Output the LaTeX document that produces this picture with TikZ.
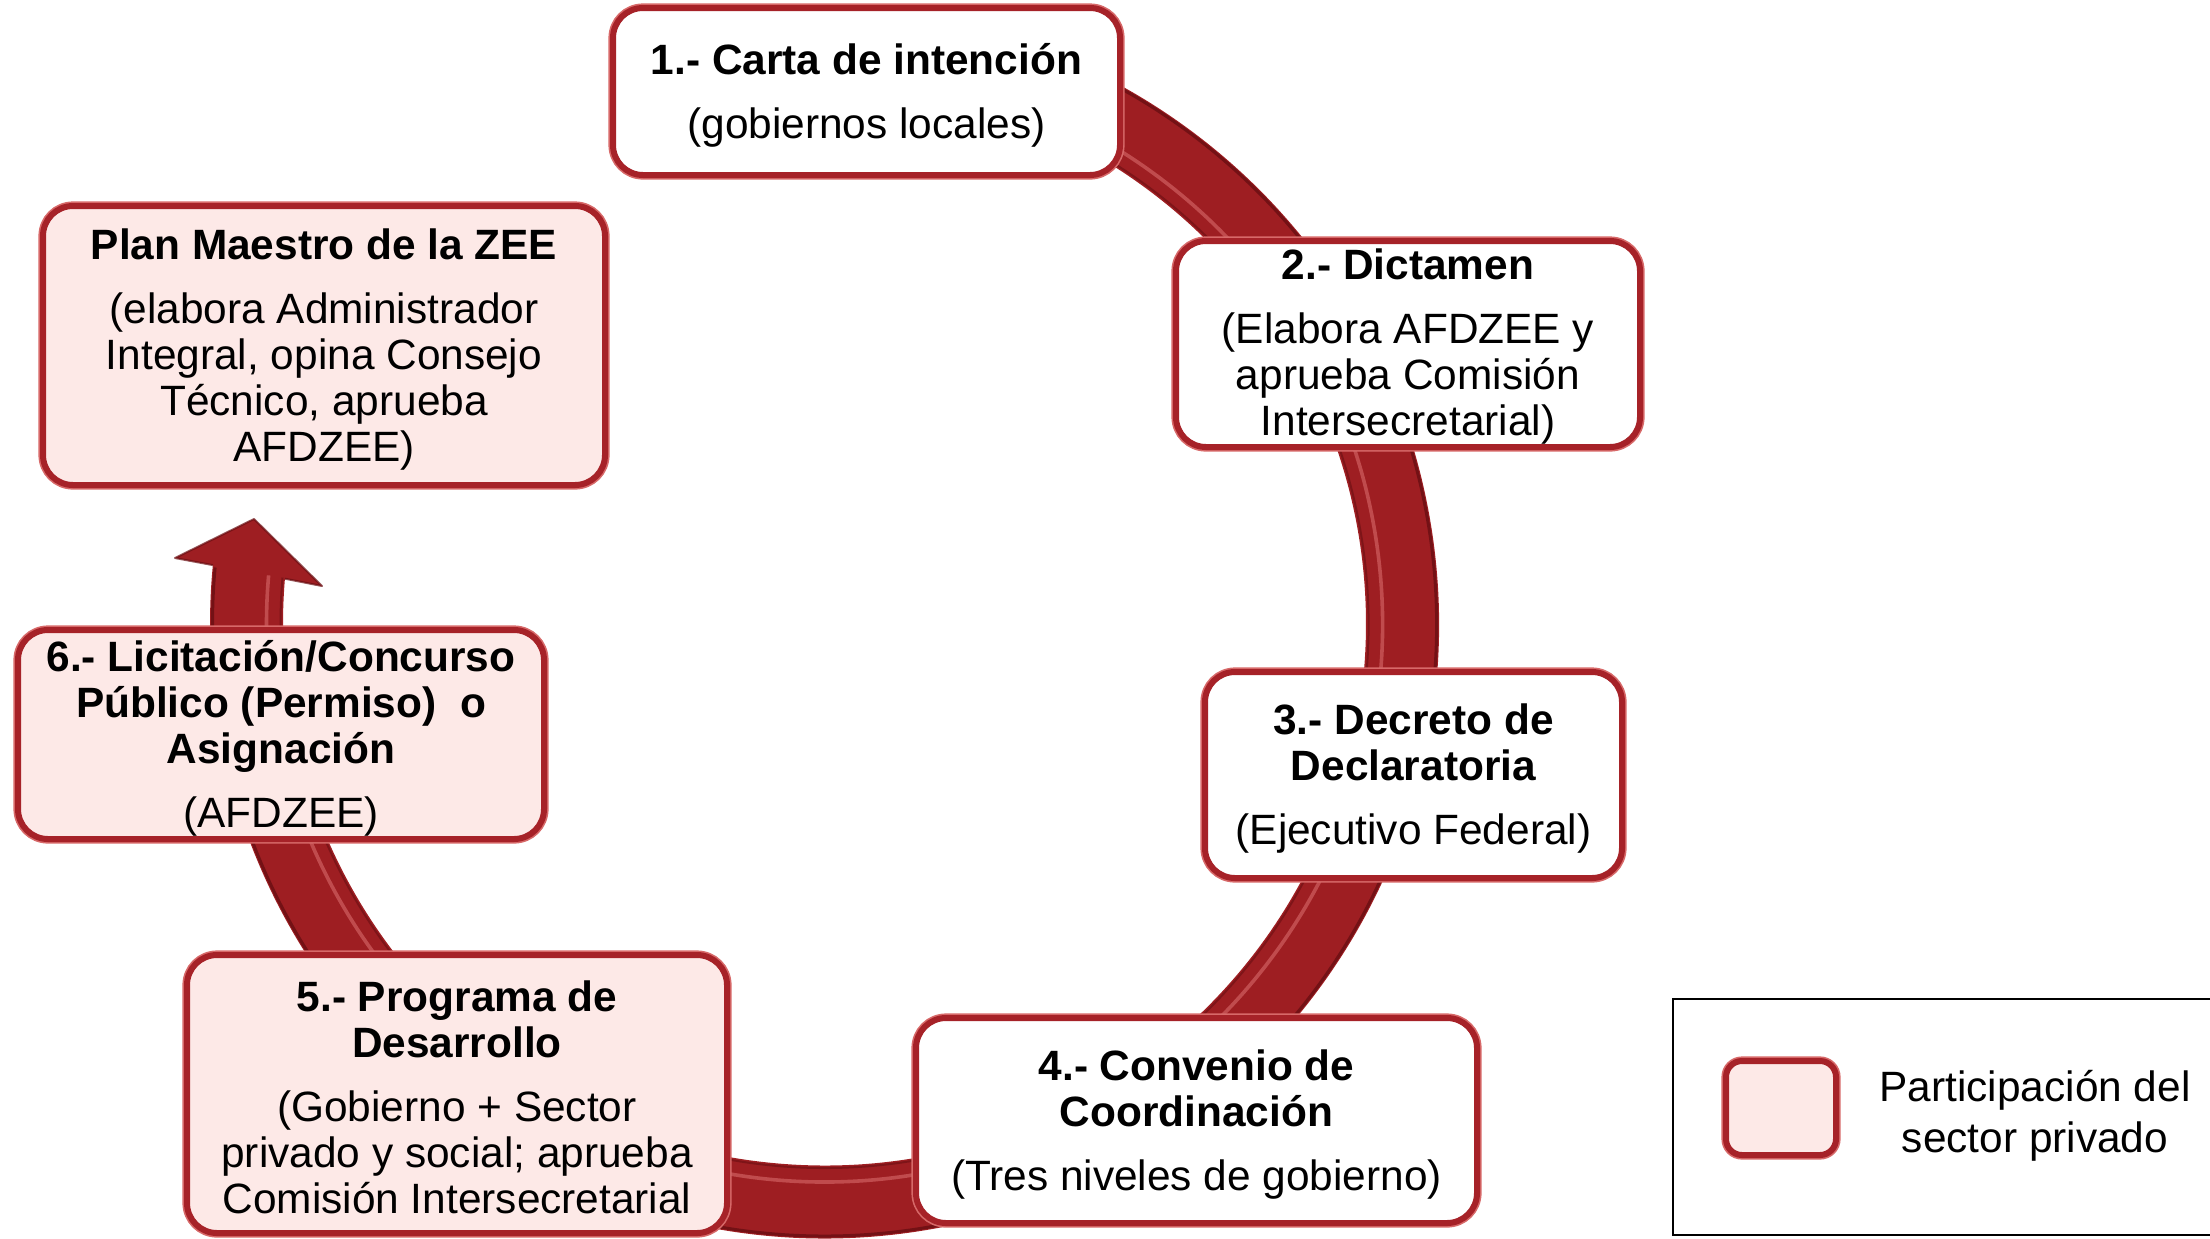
\documentclass[tikz,border=0pt]{standalone}
\usepackage{fontspec}
\setmainfont{Liberation Sans}
\definecolor{ringred}{RGB}{158,30,34}
\definecolor{ringdark}{RGB}{105,14,18}
\definecolor{ringlight}{RGB}{235,130,130}
\definecolor{boxred}{RGB}{166,34,40}
\definecolor{boxglow}{RGB}{215,105,105}
\definecolor{pinkfill}{RGB}{253,233,231}
\tikzset{
  stepbox/.style={draw=boxred, line width=3pt, rounded corners=15pt,
    inner sep=0pt, preaction={draw=boxglow, line width=4.6pt}},
  whitebox/.style={stepbox, fill=white},
  pinkbox/.style={stepbox, fill=pinkfill},
  steptext/.style={align=center, inner sep=0pt, font=\fontsize{21.2pt}{23pt}\selectfont},
}
\begin{document}
\begin{tikzpicture}[x=0.5pt, y=-0.5pt]
\useasboundingbox (0,0) rectangle (2210,1238);
% ring arrow
\begin{scope}[shift={(824.5,624)}]
  \fill[ringred] (-100:614.5) arc[start angle=-100, end angle=185.5, radius=614.5]
     -- (-649.5,-66) -- (-570.5,-105) -- (-502.5,-38) -- (184.8:541.5)
     arc[start angle=184.8, end angle=-100, radius=541.5] -- cycle;
  \draw[ringdark, line width=1.5pt, opacity=0.8] (-100:612) arc[start angle=-100, end angle=185.3, radius=612];
  \draw[ringdark, line width=1pt, opacity=0.6] (-100:544) arc[start angle=-100, end angle=184.9, radius=544];
  \draw[ringlight, line width=1.8pt, opacity=0.45] (-100:558) arc[start angle=-100, end angle=185, radius=558];
  \draw[ringdark, line width=1pt, opacity=0.7, line join=round] (185.5:614.5) -- (-649.5,-66) -- (-570.5,-105) -- (-502.5,-38) -- (184.8:541.5);
\end{scope}
% steps: boxes
\node[whitebox, minimum width=253.5pt, minimum height=83.5pt] (s1) at (866.5,91.5) {};
\node[whitebox, minimum width=232pt, minimum height=103pt] (s2) at (1408,344) {};
\node[whitebox, minimum width=208.5pt, minimum height=103pt] (s3) at (1413.5,775) {};
\node[whitebox, minimum width=280.5pt, minimum height=102.5pt] (s4) at (1196.5,1120.5) {};
\node[pinkbox, minimum width=270pt, minimum height=139pt] (s5) at (457,1094) {};
\node[pinkbox, minimum width=263pt, minimum height=104.5pt] (s6) at (281,734.5) {};
\node[pinkbox, minimum width=281pt, minimum height=139.5pt] (plan) at (324,345.5) {};
% steps: texts
\node[steptext] (s1t) at ([yshift=-2pt]s1.center)
  {\textbf{1.- Carta de intención}\\[9pt](gobiernos locales)};
\node[steptext] (s2t) at ([yshift=-1.5pt]s2.center)
  {\textbf{2.- Dictamen}\\[9pt](Elabora AFDZEE y\\aprueba Comisión\\Intersecretarial)};
\node[steptext] (s3t) at ([yshift=-2pt]s3.center)
  {\textbf{3.- Decreto de}\\\textbf{Declaratoria}\\[9pt](Ejecutivo Federal)};
\node[steptext] (s4t) at ([yshift=-2pt]s4.center)
  {\textbf{4.- Convenio de}\\\textbf{Coordinación}\\[9pt](Tres niveles de gobierno)};
\node[steptext] (s5t) at ([yshift=-1.5pt]s5.center)
  {\textbf{5.- Programa de}\\\textbf{Desarrollo}\\[9pt](Gobierno + Sector\\privado y social; aprueba\\Comisión Intersecretarial};
\node[steptext] (s6t) at ([yshift=-2pt]s6.center)
  {\textbf{6.- Licitación/Concurso}\\\textbf{Público (Permiso)\ \ o}\\\textbf{Asignación}\\[9pt](AFDZEE)};
\node[steptext] (plant) at ([yshift=-2pt]plan.center)
  {\textbf{Plan Maestro de la ZEE}\\[9pt](elabora Administrador\\Integral, opina Consejo\\Técnico, aprueba\\AFDZEE)};
% legend
\draw[line width=1.2pt] (2230,999) -- (1673,999) -- (1673,1235) -- (2230,1235);
\node[pinkbox, minimum width=55pt, minimum height=47pt, rounded corners=8pt] (legbox) at (1781,1108) {};
\node[align=center, inner sep=0pt, font=\fontsize{21.2pt}{25.3pt}\selectfont] (legtext) at (2035,1116)
  {Participación del\\sector privado};
\end{tikzpicture}
\end{document}
